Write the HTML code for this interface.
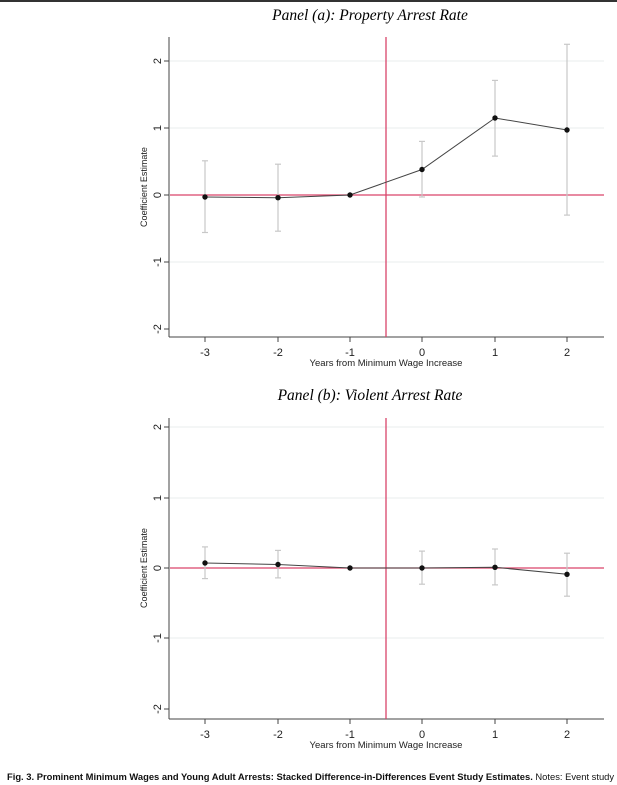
<!DOCTYPE html>
<html><head><meta charset="utf-8"><style>
body{margin:0;background:#fff;width:617px;height:785px;overflow:hidden;}
svg{display:block}
</style></head><body>
<svg width="617" height="785" xmlns="http://www.w3.org/2000/svg" font-family="Liberation Sans, sans-serif">
<rect x="0" y="0" width="617" height="2" fill="#333"/>
<!-- Panel a -->
<text x="370" y="20" text-anchor="middle" font-family="Liberation Serif, serif" font-style="italic" font-size="15.5">Panel (a): Property Arrest Rate</text>
<g stroke="#e8eeee" stroke-width="1">
<line x1="170" x2="604" y1="61" y2="61"/><line x1="170" x2="604" y1="128" y2="128"/><line x1="170" x2="604" y1="262" y2="262"/>
</g>
<line x1="169" y1="37" x2="169" y2="337" stroke="#444"/>
<line x1="169" y1="337" x2="604" y2="337" stroke="#444"/>
<g stroke="#444"><line x1="164" x2="169" y1="61" y2="61"/><line x1="164" x2="169" y1="128" y2="128"/><line x1="164" x2="169" y1="195" y2="195"/><line x1="164" x2="169" y1="262" y2="262"/><line x1="164" x2="169" y1="329" y2="329"/>
<line x1="205" x2="205" y1="337" y2="342"/><line x1="278" x2="278" y1="337" y2="342"/><line x1="350" x2="350" y1="337" y2="342"/><line x1="422" x2="422" y1="337" y2="342"/><line x1="495" x2="495" y1="337" y2="342"/><line x1="567" x2="567" y1="337" y2="342"/></g>
<g font-size="11" fill="#222" text-anchor="middle">
<text transform="translate(157,61) rotate(-90)" dy="4">2</text>
<text transform="translate(157,128) rotate(-90)" dy="4">1</text>
<text transform="translate(157,195) rotate(-90)" dy="4">0</text>
<text transform="translate(157,262) rotate(-90)" dy="4">-1</text>
<text transform="translate(157,329) rotate(-90)" dy="4">-2</text>
<text x="205" y="356">-3</text><text x="278" y="356">-2</text><text x="350" y="356">-1</text><text x="422" y="356">0</text><text x="495" y="356">1</text><text x="567" y="356">2</text>
<text x="386" y="366" font-size="9.5">Years from Minimum Wage Increase</text>
<text transform="translate(147,187) rotate(-90)" font-size="9">Coefficient Estimate</text>
</g>
<line x1="170" x2="604" y1="195" y2="195" stroke="#d9456a" stroke-width="1.3"/>
<line x1="386" x2="386" y1="37" y2="337" stroke="#d9456a" stroke-width="1.3"/>
<g stroke="#c8c8c8" stroke-width="1.2">
<line x1="205" x2="205" y1="160.8" y2="232.5"/><line x1="202" x2="208" y1="160.8" y2="160.8"/><line x1="202" x2="208" y1="232.5" y2="232.5"/>
<line x1="278" x2="278" y1="164.2" y2="231.2"/><line x1="275" x2="281" y1="164.2" y2="164.2"/><line x1="275" x2="281" y1="231.2" y2="231.2"/>
<line x1="422" x2="422" y1="141.4" y2="197"/><line x1="419" x2="425" y1="141.4" y2="141.4"/><line x1="419" x2="425" y1="197" y2="197"/>
<line x1="495" x2="495" y1="80.4" y2="156.1"/><line x1="492" x2="498" y1="80.4" y2="80.4"/><line x1="492" x2="498" y1="156.1" y2="156.1"/>
<line x1="567" x2="567" y1="44.3" y2="215.1"/><line x1="564" x2="570" y1="44.3" y2="44.3"/><line x1="564" x2="570" y1="215.1" y2="215.1"/>
</g>
<polyline points="205,197 278,197.7 350,195 422,169.5 495,118 567,130" fill="none" stroke="#444" stroke-width="1"/>
<g fill="#111"><circle cx="205" cy="197" r="2.7"/><circle cx="278" cy="197.7" r="2.7"/><circle cx="350" cy="195" r="2.7"/><circle cx="422" cy="169.5" r="2.7"/><circle cx="495" cy="118" r="2.7"/><circle cx="567" cy="130" r="2.7"/></g>

<!-- Panel b -->
<text x="370" y="400" text-anchor="middle" font-family="Liberation Serif, serif" font-style="italic" font-size="15.5">Panel (b): Violent Arrest Rate</text>
<g stroke="#e8eeee" stroke-width="1">
<line x1="170" x2="604" y1="427" y2="427"/><line x1="170" x2="604" y1="498" y2="498"/><line x1="170" x2="604" y1="638" y2="638"/>
</g>
<line x1="169" y1="418" x2="169" y2="719" stroke="#444"/>
<line x1="169" y1="719" x2="604" y2="719" stroke="#444"/>
<g stroke="#444"><line x1="164" x2="169" y1="427" y2="427"/><line x1="164" x2="169" y1="498" y2="498"/><line x1="164" x2="169" y1="568" y2="568"/><line x1="164" x2="169" y1="638" y2="638"/><line x1="164" x2="169" y1="709" y2="709"/>
<line x1="205" x2="205" y1="719" y2="724"/><line x1="278" x2="278" y1="719" y2="724"/><line x1="350" x2="350" y1="719" y2="724"/><line x1="422" x2="422" y1="719" y2="724"/><line x1="495" x2="495" y1="719" y2="724"/><line x1="567" x2="567" y1="719" y2="724"/></g>
<g font-size="11" fill="#222" text-anchor="middle">
<text transform="translate(157,427) rotate(-90)" dy="4">2</text>
<text transform="translate(157,498) rotate(-90)" dy="4">1</text>
<text transform="translate(157,568) rotate(-90)" dy="4">0</text>
<text transform="translate(157,638) rotate(-90)" dy="4">-1</text>
<text transform="translate(157,709) rotate(-90)" dy="4">-2</text>
<text x="205" y="738">-3</text><text x="278" y="738">-2</text><text x="350" y="738">-1</text><text x="422" y="738">0</text><text x="495" y="738">1</text><text x="567" y="738">2</text>
<text x="386" y="748" font-size="9.5">Years from Minimum Wage Increase</text>
<text transform="translate(147,568) rotate(-90)" font-size="9">Coefficient Estimate</text>
</g>
<line x1="170" x2="604" y1="568" y2="568" stroke="#d9456a" stroke-width="1.3"/>
<line x1="386" x2="386" y1="418" y2="719" stroke="#d9456a" stroke-width="1.3"/>
<g stroke="#c8c8c8" stroke-width="1.2">
<line x1="205" x2="205" y1="546.9" y2="578.6"/><line x1="202" x2="208" y1="546.9" y2="546.9"/><line x1="202" x2="208" y1="578.6" y2="578.6"/>
<line x1="278" x2="278" y1="550.4" y2="577.9"/><line x1="275" x2="281" y1="550.4" y2="550.4"/><line x1="275" x2="281" y1="577.9" y2="577.9"/>
<line x1="422" x2="422" y1="551.1" y2="584.2"/><line x1="419" x2="425" y1="551.1" y2="551.1"/><line x1="419" x2="425" y1="584.2" y2="584.2"/>
<line x1="495" x2="495" y1="549" y2="584.9"/><line x1="492" x2="498" y1="549" y2="549"/><line x1="492" x2="498" y1="584.9" y2="584.9"/>
<line x1="567" x2="567" y1="553.2" y2="596.2"/><line x1="564" x2="570" y1="553.2" y2="553.2"/><line x1="564" x2="570" y1="596.2" y2="596.2"/>
</g>
<polyline points="205,563 278,564.5 350,568 422,568 495,567.3 567,574.3" fill="none" stroke="#444" stroke-width="1"/>
<g fill="#111"><circle cx="205" cy="563" r="2.7"/><circle cx="278" cy="564.5" r="2.7"/><circle cx="350" cy="568" r="2.7"/><circle cx="422" cy="568" r="2.7"/><circle cx="495" cy="567.3" r="2.7"/><circle cx="567" cy="574.3" r="2.7"/></g>

<text x="7" y="780" font-size="9.4" fill="#111"><tspan font-weight="bold">Fig. 3.  Prominent Minimum Wages and Young Adult Arrests: Stacked Difference-in-Differences Event Study Estimates.</tspan> Notes: Event study estimates</text>
</svg>
</body></html>
